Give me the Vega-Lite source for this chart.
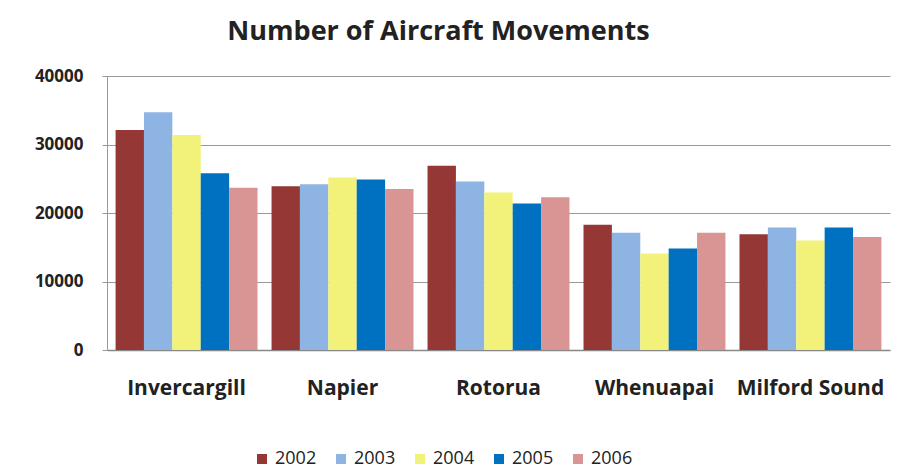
{
  "$schema": "https://vega.github.io/schema/vega-lite/v6.json",
  "width": 783,
  "height": 274,
  "autosize": {"type": "none"},
  "padding": {"left": 107, "top": 76, "right": 7, "bottom": 124},
  "background": "white",
  "title": {"text": "Number of Aircraft Movements", "fontSize": 27, "font": "Open Sans", "fontWeight": "bold", "color": "#222", "anchor": "middle", "dx": -60, "offset": 21},
  "data": {"values": [
    {"airport": "Invercargill", "year": "2002", "movements": 32100},
    {"airport": "Invercargill", "year": "2003", "movements": 34700},
    {"airport": "Invercargill", "year": "2004", "movements": 31400},
    {"airport": "Invercargill", "year": "2005", "movements": 25800},
    {"airport": "Invercargill", "year": "2006", "movements": 23700},
    {"airport": "Napier", "year": "2002", "movements": 23900},
    {"airport": "Napier", "year": "2003", "movements": 24200},
    {"airport": "Napier", "year": "2004", "movements": 25200},
    {"airport": "Napier", "year": "2005", "movements": 24900},
    {"airport": "Napier", "year": "2006", "movements": 23500},
    {"airport": "Rotorua", "year": "2002", "movements": 26900},
    {"airport": "Rotorua", "year": "2003", "movements": 24600},
    {"airport": "Rotorua", "year": "2004", "movements": 23000},
    {"airport": "Rotorua", "year": "2005", "movements": 21400},
    {"airport": "Rotorua", "year": "2006", "movements": 22300},
    {"airport": "Whenuapai", "year": "2002", "movements": 18300},
    {"airport": "Whenuapai", "year": "2003", "movements": 17100},
    {"airport": "Whenuapai", "year": "2004", "movements": 14100},
    {"airport": "Whenuapai", "year": "2005", "movements": 14800},
    {"airport": "Whenuapai", "year": "2006", "movements": 17100},
    {"airport": "Milford Sound", "year": "2002", "movements": 16900},
    {"airport": "Milford Sound", "year": "2003", "movements": 17900},
    {"airport": "Milford Sound", "year": "2004", "movements": 16000},
    {"airport": "Milford Sound", "year": "2005", "movements": 17900},
    {"airport": "Milford Sound", "year": "2006", "movements": 16500}
  ]},
  "mark": {"type": "bar"},
  "encoding": {
    "x": {"field": "airport", "type": "nominal", "sort": null,
      "scale": {"paddingInner": 0.09, "paddingOuter": 0.055},
      "axis": {"title": null, "labelAngle": 0, "labelFontSize": 21, "labelFont": "Open Sans", "labelFontWeight": "bold", "labelColor": "#222", "labelPadding": 27, "ticks": false, "domainColor": "#888", "domainWidth": 1.5}},
    "xOffset": {"field": "year", "type": "nominal", "scale": {"paddingInner": 0, "paddingOuter": 0}},
    "y": {"field": "movements", "type": "quantitative",
      "scale": {"domain": [0, 40000], "nice": false},
      "axis": {"title": null, "values": [0, 10000, 20000, 30000, 40000], "labelFontSize": 17, "labelFont": "Open Sans", "labelFontWeight": "bold", "labelColor": "#222", "labelPadding": 19, "tickSize": 5, "tickColor": "#999", "domainColor": "#999", "gridColor": "#999", "gridWidth": 1.2, "format": "d"}},
    "color": {"field": "year", "type": "nominal",
      "scale": {"domain": ["2002", "2003", "2004", "2005", "2006"], "range": ["#953735", "#8EB4E3", "#F2F27A", "#0070C0", "#D99594"]},
      "legend": {"title": null, "orient": "none", "legendX": 146, "legendY": 374, "direction": "horizontal", "symbolType": "square", "symbolSize": 100, "symbolStrokeWidth": 0, "labelFontSize": 18, "labelFont": "Open Sans", "labelColor": "#222", "columnPadding": 15, "labelOffset": 4}}
  },
  "config": {"view": {"stroke": null}}
}
